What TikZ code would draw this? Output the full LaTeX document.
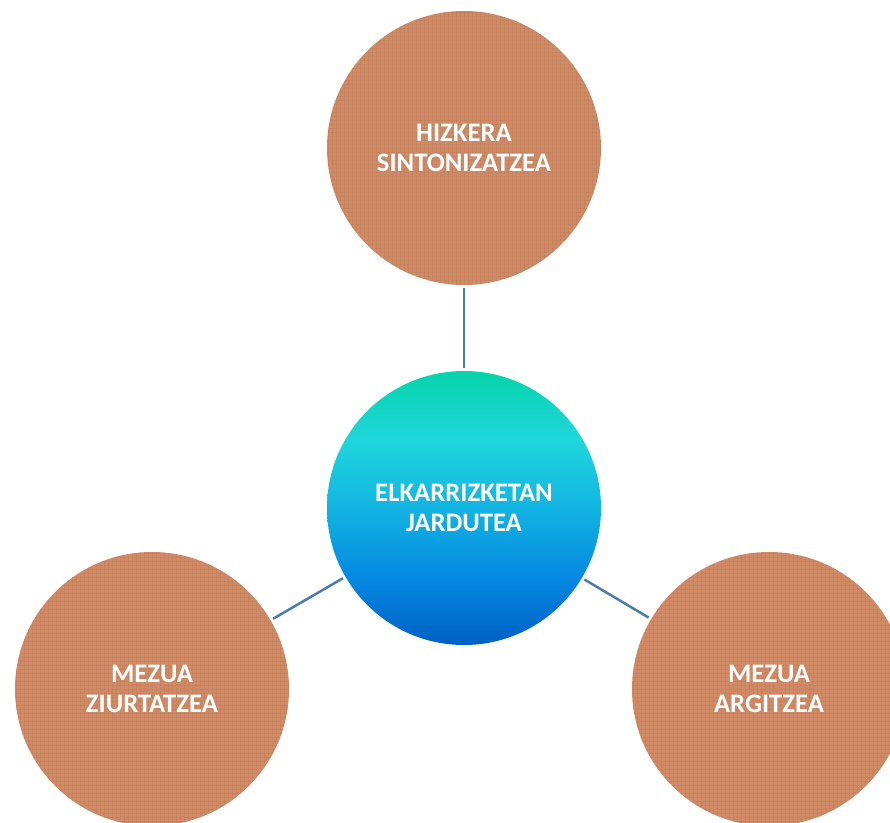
\documentclass[tikz,border=0pt]{standalone}
\usepackage{fontspec}
\setmainfont{Carlito}
\definecolor{brownfill}{HTML}{D18A66}
\definecolor{browndark}{HTML}{A8694A}
\definecolor{linkblue}{HTML}{4A7CB0}
\definecolor{gtop}{HTML}{06D4AA}
\definecolor{gupper}{HTML}{1FD6DC}
\definecolor{gmid}{HTML}{12B4E2}
\definecolor{glower}{HTML}{0589E2}
\definecolor{gbottom}{HTML}{0060C4}
\pgfdeclareverticalshading{centregrad}{100bp}{color(0bp)=(gbottom); color(25bp)=(gbottom); color(37.5bp)=(glower); color(50bp)=(gmid); color(62.5bp)=(gupper); color(75bp)=(gtop); color(100bp)=(gtop)}
\begin{document}
\begin{tikzpicture}[x=1pt,y=-1pt,
  bubble/.style={circle, minimum size=274pt, inner sep=0pt, outer sep=3pt, align=center,
    text=white, font=\fontsize{26.7}{30}\selectfont\bfseries},
  outerbubble/.style={bubble, fill=brownfill,
    path picture={
      \foreach \k in {-140,-136,...,140}{
        \draw[browndark, line width=0.8pt, opacity=0.18]
          ([xshift=\k pt]path picture bounding box.north) -- ([xshift=\k pt]path picture bounding box.south);
        \draw[browndark, line width=0.8pt, opacity=0.18]
          ([yshift=\k pt]path picture bounding box.west) -- ([yshift=\k pt]path picture bounding box.east);
      }}},
  centrebubble/.style={bubble, shading=centregrad},
  link/.style={draw=linkblue, line width=2.5pt}]
\useasboundingbox (0,0) rectangle (890,822);
\clip (0,0) rectangle (890,822);
\node[outerbubble] (top) at (464,148) {HIZKERA\\SINTONIZATZEA};
\node[centrebubble] (mid) at (464,508) {ELKARRIZKETAN\\JARDUTEA};
\node[outerbubble] (left) at (152,689) {MEZUA\\ZIURTATZEA};
\node[outerbubble] (right) at (769,689) {MEZUA\\ARGITZEA};
\draw[link] (mid) -- (top);
\draw[link] (mid) -- (left);
\draw[link] (mid) -- (right);
\end{tikzpicture}
\end{document}
